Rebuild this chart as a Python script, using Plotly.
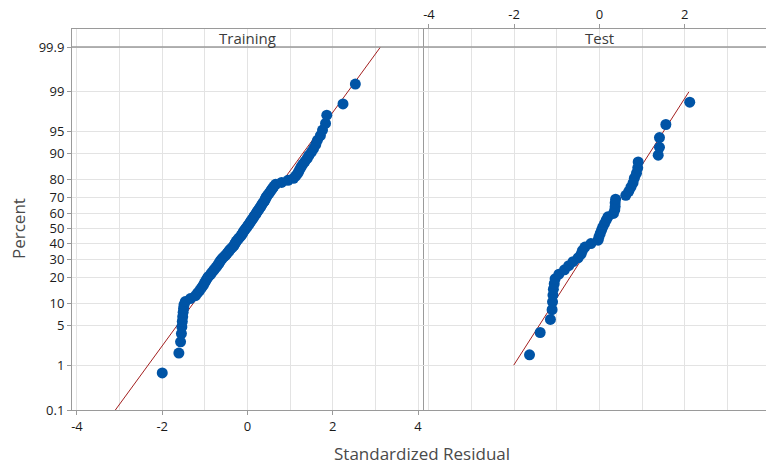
import plotly.graph_objects as go
from statistics import NormalDist

# ---------------- data ----------------
panels = ["Training", "Test"]

train_resid = [
    -2.00, -1.61, -1.57, -1.55, -1.54, -1.53, -1.52, -1.51, -1.50, -1.49,
    -1.46, -1.34, -1.22, -1.17, -1.12, -1.08, -1.04, -1.01, -0.98, -0.95,
    -0.92, -0.87, -0.84, -0.80, -0.77, -0.73, -0.70, -0.67, -0.65, -0.62,
    -0.59, -0.55, -0.51, -0.48, -0.45, -0.42, -0.39, -0.35, -0.32, -0.30,
    -0.28, -0.26, -0.23, -0.20, -0.17, -0.14, -0.12, -0.10, -0.08, -0.05,
    -0.03, 0.00, 0.02, 0.05, 0.07, 0.09, 0.12, 0.14, 0.16, 0.19,
    0.21, 0.23, 0.26, 0.28, 0.31, 0.33, 0.35, 0.38, 0.41, 0.42,
    0.44, 0.47, 0.50, 0.53, 0.56, 0.59, 0.62, 0.66, 0.80, 0.95,
    1.08, 1.13, 1.17, 1.20, 1.23, 1.26, 1.30, 1.35, 1.40, 1.44,
    1.50, 1.55, 1.60, 1.64, 1.71, 1.76, 1.83, 1.86, 2.24, 2.53,
]

test_resid = [
    -1.64, -1.39, -1.15, -1.11, -1.10, -1.09, -1.08, -1.06, -1.04, -0.95,
    -0.82, -0.72, -0.62, -0.50, -0.43, -0.40, -0.34, -0.20, -0.03, -0.01,
    0.02, 0.05, 0.08, 0.12, 0.16, 0.20, 0.33, 0.36, 0.37, 0.37,
    0.38, 0.62, 0.69, 0.74, 0.79, 0.82, 0.87, 0.90, 0.91, 1.38,
    1.41, 1.41, 1.56, 2.12,
]

# fitted normal lines: (residual, percent) end points
train_fit_x = [-3.10, 3.12]
train_fit_pct = [0.1, 99.9]
test_fit_x = [-2.01, 2.10]
test_fit_pct = [1, 99]

pct_ticks = [0.1, 1, 5, 10, 20, 30, 40, 50, 60, 70, 80, 90, 95, 99, 99.9]
pct_labels = ["0.1", "1", "5", "10", "20", "30", "40", "50", "60", "70",
              "80", "90", "95", "99", "99.9"]
x_ticks = [-4, -2, 0, 2, 4]
x_labels = ["-4", "-2", "0", "2", "4"]

# ---------------- probability scale helpers ----------------
nd = NormalDist()


def pz(p):
    return nd.inv_cdf(p / 100.0)


def median_rank_pct(n):
    return [(i - 0.3) / (n + 0.4) * 100 for i in range(1, n + 1)]


# ---------------- geometry ----------------
W, H = 766, 468
ML, MR, MT, MB = 72, 0, 29, 58
PW = W - ML - MR
PH = H - MT - MB
split = (423 - ML) / PW
zlo, zhi = pz(0.1), pz(99.9)
head_px = 18
zunit = (PH - head_px) / (zhi - zlo)
ytop = zhi + head_px / zunit

BLUE = "#0054A6"
RED = "#A31F1F"
GRID = "#E3E3E3"
FRAME = "#9A9A9A"
FONT = "Segoe UI, Open Sans, Noto Sans, sans-serif"

fig = go.Figure()

for name, resid, fx, fp, xa in [
    ("Training", train_resid, train_fit_x, train_fit_pct, "x"),
    ("Test", test_resid, test_fit_x, test_fit_pct, "x2"),
]:
    srt = sorted(resid)
    pcts = median_rank_pct(len(srt))
    fig.add_trace(go.Scatter(
        x=fx, y=[pz(p) for p in fp], mode="lines",
        line=dict(color=RED, width=1), xaxis=xa, yaxis="y",
        showlegend=False, hoverinfo="skip"))
    fig.add_trace(go.Scatter(
        x=srt, y=[pz(p) for p in pcts], mode="markers",
        marker=dict(color=BLUE, size=11, line=dict(width=0)),
        xaxis=xa, yaxis="y", name=name, showlegend=False))

tickfont = dict(family=FONT, size=13, color="#1A1A1A")

fig.update_layout(
    width=W, height=H,
    margin=dict(l=ML, r=MR, t=MT, b=MB),
    paper_bgcolor="white", plot_bgcolor="white",
    font=dict(family=FONT),
    xaxis=dict(
        domain=[0, split], range=[-4.117, 4.117], anchor="y", side="bottom",
        tickmode="array", tickvals=x_ticks, ticktext=x_labels,
        ticks="outside", ticklen=4, tickcolor=FRAME, tickfont=tickfont,
        showline=True, linecolor=FRAME, linewidth=1, mirror=True,
        showgrid=True, gridcolor=GRID, zeroline=False,
        minor=dict(dtick=1, tick0=0, showgrid=True, gridcolor=GRID, ticks=""),
    ),
    xaxis2=dict(
        domain=[split, 1], range=[-4.14, 3.91], anchor="y", side="top",
        tickmode="array", tickvals=x_ticks, ticktext=x_labels,
        ticks="outside", ticklen=4, tickcolor=FRAME, tickfont=tickfont,
        showline=True, linecolor=FRAME, linewidth=1, mirror=True,
        showgrid=True, gridcolor=GRID, zeroline=False,
        minor=dict(dtick=1, tick0=0, showgrid=True, gridcolor=GRID, ticks=""),
    ),
    yaxis=dict(
        domain=[0, 1], range=[zlo, ytop], anchor="x",
        tickmode="array", tickvals=[pz(p) for p in pct_ticks], ticktext=pct_labels,
        ticks="outside", ticklen=4, tickcolor=FRAME, tickfont=tickfont,
        showline=True, linecolor=FRAME, linewidth=1, mirror=True,
        showgrid=True, gridcolor=GRID, zeroline=False,
    ),
)

# strip header
fig.add_shape(type="rect", xref="paper", yref="y", x0=0, x1=1.05,
              y0=zhi, y1=ytop - 1.0 / zunit, fillcolor="white",
              line=dict(width=0), layer="between")
fig.add_shape(type="line", xref="paper", yref="y", x0=0, x1=1.05,
              y0=zhi, y1=zhi, line=dict(color=FRAME, width=1.5), layer="above")

# header labels
for txt, xc in [(panels[0], (247 - ML) / PW), (panels[1], (599 - ML) / PW)]:
    fig.add_annotation(text=txt, xref="paper", yref="paper", x=xc,
                       y=(H - MB - 38) / PH,
                       showarrow=False, xanchor="center", yanchor="middle",
                       font=dict(family=FONT, size=15, color="#3C3C3C"))

# axis titles
fig.add_annotation(text="Percent", xref="paper", yref="paper",
                   x=(18 - ML) / PW, y=(H - MB - 229) / PH, textangle=-90,
                   showarrow=False, xanchor="center", yanchor="middle",
                   font=dict(family=FONT, size=17, color="#4A4A4A"))
fig.add_annotation(text="Standardized Residual", xref="paper", yref="paper",
                   x=(422 - ML) / PW, y=(H - MB - 453) / PH,
                   showarrow=False, xanchor="center", yanchor="middle",
                   font=dict(family=FONT, size=17, color="#4A4A4A"))

fig.write_html("out.html")
